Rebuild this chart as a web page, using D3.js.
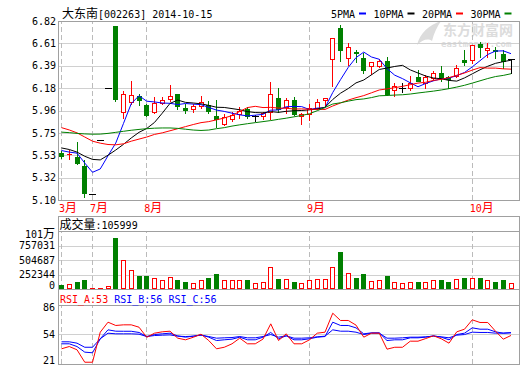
<!DOCTYPE html>
<html>
<head>
<meta charset="utf-8">
<script src="https://cdn.jsdelivr.net/npm/d3@7"></script>
<style>
body { margin: 0; background: #fff; }
svg { display: block; }
text { font-family: "DejaVu Sans Mono", monospace; font-size: 10px; }
.cjk { font-family: "Noto Sans CJK SC", sans-serif; font-size: 12px; }
</style>
</head>
<body>
<div id="chart"></div>
<script>
// ---- data ----
var stockName = "大东南", stockCode = "[002263]", stockDate = "2014-10-15";
var monthLabels = ["3月", "7月", "8月", "9月", "10月"];
var monthStart = [0, 4, 11, 32, 53];

var open  = [5.55,5.54,5.51,5.43,5.16,5.68,6.18,6.77,5.95,6.04,6.10,6.015,5.95,6.035,6.07,6.115,5.98,5.975,6.00,6.015,
             5.905,5.83,5.88,5.925,5.97,5.91,5.905,5.95,6.08,5.995,6.065,5.91,5.925,5.98,6.065,6.455,6.75,6.465,6.52,6.465,
             6.385,6.385,6.435,6.16,6.18,6.175,6.28,6.225,6.275,6.32,6.28,6.29,6.45,6.447,6.595,6.54,6.545,6.505,6.455];
var high  = [5.57,5.58,5.66,5.48,5.16,5.68,6.18,6.77,6.15,6.24,6.12,6.02,6.09,6.09,6.205,6.12,6.025,6.025,6.10,6.05,
             6.065,5.925,5.945,5.99,5.99,5.915,5.95,6.23,6.175,6.08,6.085,5.935,6.02,6.07,6.08,6.66,6.78,6.61,6.54,6.51,
             6.425,6.455,6.47,6.22,6.22,6.295,6.345,6.30,6.34,6.39,6.29,6.395,6.54,6.59,6.615,6.61,6.57,6.54,6.455];
var low   = [5.50,5.49,5.45,5.13,5.16,5.68,6.18,6.05,5.89,6.02,6.015,5.91,5.935,6.025,6.05,5.975,5.94,5.95,5.98,5.94,
             5.80,5.82,5.855,5.885,5.885,5.855,5.875,5.875,5.945,5.94,5.92,5.83,5.865,5.975,6.00,6.195,6.44,6.40,6.43,6.325,
             6.31,6.38,6.11,6.10,6.14,6.16,6.24,6.18,6.25,6.245,6.175,6.28,6.40,6.415,6.47,6.47,6.46,6.365,6.325];
var close = [5.52,5.545,5.46,5.17,5.16,5.68,6.18,6.07,6.116,6.11,6.06,5.915,6.035,6.065,6.095,6.00,5.965,6.005,6.04,5.96,
             5.875,5.90,5.92,5.96,5.91,5.91,5.94,6.12,5.97,6.065,5.925,5.93,5.98,6.04,6.078,6.66,6.545,6.57,6.51,6.345,
             6.425,6.435,6.12,6.195,6.18,6.225,6.245,6.28,6.32,6.275,6.26,6.365,6.43,6.59,6.57,6.56,6.53,6.44,6.455];

var ma5  = [5.58,5.565,5.555,5.46,5.371,5.403,5.53,5.652,5.841,6.031,6.107,6.054,6.047,6.037,6.034,6.022,6.032,6.026,6.021,5.994,
            5.969,5.956,5.939,5.923,5.913,5.92,5.928,5.968,5.97,6.001,6.004,6.002,5.974,5.988,5.991,6.138,6.261,6.379,6.473,6.526,
            6.479,6.457,6.367,6.304,6.271,6.231,6.193,6.225,6.25,6.269,6.276,6.30,6.33,6.384,6.443,6.503,6.536,6.538,6.511];
var ma10 = [5.605,5.59,5.565,5.525,5.495,5.49,5.535,5.585,5.64,5.701,5.755,5.792,5.850,5.939,6.033,6.065,6.043,6.037,6.029,6.014,
            5.996,5.994,5.983,5.972,5.954,5.945,5.942,5.954,5.947,5.957,5.962,5.965,5.971,5.979,5.996,6.071,6.131,6.176,6.230,6.258,
            6.308,6.359,6.373,6.388,6.399,6.355,6.325,6.296,6.277,6.270,6.254,6.247,6.278,6.317,6.356,6.390,6.418,6.434,6.448];
var ma20 = [5.80,5.778,5.75,5.71,5.67,5.651,5.638,5.635,5.645,5.67,5.69,5.71,5.735,5.75,5.77,5.79,5.81,5.83,5.848,5.858,
            5.875,5.893,5.916,5.956,5.993,6.005,5.993,5.995,5.988,5.986,5.979,5.980,5.977,5.976,5.975,6.008,6.037,6.065,6.088,6.108,
            6.135,6.162,6.172,6.184,6.197,6.213,6.228,6.236,6.254,6.264,6.281,6.303,6.325,6.353,6.377,6.372,6.372,6.365,6.362];
var ma30 = [5.757,5.752,5.745,5.74,5.737,5.738,5.745,5.755,5.765,5.775,5.783,5.79,5.795,5.797,5.797,5.793,5.785,5.777,5.773,5.777,
            5.79,5.80,5.815,5.827,5.838,5.848,5.858,5.868,5.88,5.891,5.904,5.917,5.934,5.963,5.994,6.027,6.039,6.055,6.069,6.076,
            6.089,6.106,6.109,6.113,6.116,6.123,6.133,6.142,6.151,6.162,6.175,6.190,6.207,6.228,6.250,6.272,6.291,6.302,6.318];

var volume = [70000,92000,115000,150000,18000,18000,45000,893000,510000,336000,231000,231000,197000,150000,209000,162000,115000,104000,150000,197000,
              254000,150000,150000,162000,150000,104000,115000,383000,174000,174000,127000,104000,162000,174000,174000,383000,650000,278000,197000,267000,
              139000,162000,220000,127000,104000,127000,127000,127000,162000,162000,115000,174000,197000,197000,185000,162000,127000,150000,105999];

var rsiA = [38.3,40.8,37.2,23.5,23.5,56.6,67.6,64,64.7,64.7,62.1,51,55.5,57,57.7,50,48.2,51,54.4,47.4,
            38.3,40,43.8,50,43.8,43.8,49,65.8,47.4,54.8,43.8,43.8,48.2,55.5,56.6,77.5,69.5,69.5,64.4,51.1,
            55.5,55.5,37.9,40,40,46.7,46.7,49.6,52.6,49.3,44.5,57,59.9,70.2,67.3,67.3,57.7,48.9,53];
var rsiB = [43.8,43.8,40.8,34.6,33.9,49.3,59.2,57.7,57.6,57.6,56.3,51.8,54,54.8,55.5,52.5,51.1,52.2,53.6,51.1,
            47.4,48.2,48.9,51.1,48.2,48.2,51.1,56.3,49.3,52.6,48.2,48.2,49.3,51.1,51.8,67.6,64,64,61.4,54.8,
            55.9,55.9,47.4,48.2,48.2,50.4,50.4,51.1,52.6,51.1,48.2,54,55.5,61.4,59.9,59.9,57,55.5,56];
var rsiC = [46,46,44.5,40,40,49.3,55.5,54.8,54.8,54.8,54.4,51.8,52.9,53.3,53.6,52.2,51.8,52.2,53.3,51.8,
            50,50.4,50.7,51.8,50.4,50.4,51.8,54,51.1,52.6,50,50,50.4,51.5,52.2,59.2,57.7,57.7,56.6,54,
            55.5,55.5,50,50,50.4,51.1,51.1,51.5,52.2,51.5,50.4,53.3,54,56.6,56.3,56.3,55.5,55.5,56];

var priceTicks  = [5.10, 5.315, 5.53, 5.745, 5.96, 6.175, 6.39, 6.605, 6.82];
var priceLabels = ["5.10", "5.32", "5.53", "5.75", "5.96", "6.18", "6.39", "6.61", "6.82"];
var volTicks  = [0, 252344, 504687, 757031, 1009375];
var volLabels = ["0", "252344", "504687", "757031", "101万"];
var rsiTicks = [21, 54, 86];

var legendNames = ["5PMA", "10PMA", "20PMA", "30PMA"];
var maColors = ["#0000ff", "#000000", "#ff0000", "#008000"];

// ---- layout ----
var left = 59, right = 519, plotW = right - left;
var red = "#ff0000", green = "#008000", blue = "#0000ff";
var border = "#a0a0a0", gridColor = "#d0d0d0";

var svg = d3.select("#chart").append("svg").attr("width", 520).attr("height", 365);

var x = d3.scaleLinear().domain([0, close.length - 1]).range([61, 510.5]);
var yPrice = d3.scaleLinear().domain([5.10, 6.82]).range([200, 21]);
var yVol = d3.scaleLinear().domain([0, 1009375]).range([289, 231]);
var yRsi = d3.scaleLinear().domain([21, 86]).range([364, 305]);

function col(i) { return Math.round(x(i)); }

// watermark
var wm = svg.append("g").attr("fill", "#dcdcdc");
wm.append("path").attr("d", "M417,45 C420,33 429,25 441,21 C437,27 434,33 432,41 C428,38 422,40 417,45 Z");
wm.append("text").attr("class", "cjk").attr("x", 443).attr("y", 35)
  .style("font-size", "14px").style("font-weight", "bold").text("东方财富网");
wm.append("text").attr("x", 441).attr("y", 47).style("font-size", "9px").style("font-weight", "bold").text("eastmoney.com");

// ---- grids and y axes ----
function yAxis(scale, ticks, fmt, pad) {
  return d3.axisLeft(scale).tickValues(ticks).tickSize(-plotW).tickPadding(pad).tickFormat(fmt);
}
function styleGrid(g) {
  g.select(".domain").remove();
  g.selectAll(".tick line").attr("stroke", gridColor).attr("shape-rendering", "crispEdges");
  g.selectAll(".tick text").attr("fill", "#000");
}

svg.append("g").attr("transform", "translate(" + left + ",0)")
  .call(yAxis(yPrice, priceTicks, function(d, i) { return priceLabels[i]; }, 3))
  .call(styleGrid);

var volAxis = svg.append("g").attr("transform", "translate(" + left + ",0)")
  .call(yAxis(yVol, volTicks, function(d, i) { return volLabels[i]; }, 4))
  .call(styleGrid);
volAxis.selectAll(".tick text").each(function(d) {
  var t = d3.select(this);
  if (d === 1009375) {
    t.text("101").attr("dy", "0.62em");
    t.append("tspan").attr("class", "cjk").text("万");
  }
  if (d === 0) t.attr("dy", "-0.05em");
});

var rsiAxis = svg.append("g").attr("transform", "translate(" + left + ",0)")
  .call(yAxis(yRsi, rsiTicks, d3.format("d"), 4))
  .call(styleGrid);
rsiAxis.selectAll(".tick text").attr("dy", function(d) {
  return d === 86 ? "0.55em" : d === 21 ? "-0.1em" : "0.32em";
});

// month dashed lines in each panel
[[200, 179], [289, 58], [364, 59]].forEach(function(p) {
  svg.append("g").attr("transform", "translate(0," + p[0] + ")")
    .call(d3.axisBottom(x).tickValues(monthStart).tickSize(-p[1]).tickFormat(""))
    .call(function(g) {
      g.select(".domain").remove();
      g.selectAll(".tick line").attr("stroke", "#bbbbbb")
        .attr("stroke-dasharray", "5,3").attr("shape-rendering", "crispEdges");
    });
});

// month labels
svg.append("g").attr("transform", "translate(0,201)")
  .call(d3.axisBottom(x).tickValues(monthStart).tickSize(0)
    .tickFormat(function(d, i) { return monthLabels[i]; }))
  .call(function(g) {
    g.select(".domain").remove();
    g.selectAll(".tick text").each(function(d, i) {
      var lab = monthLabels[i];
      var t = d3.select(this).text(null)
        .attr("text-anchor", "start").attr("x", -2.5).attr("y", 10.5).attr("dy", null)
        .attr("fill", red);
      t.append("tspan").text(lab.slice(0, -1));
      t.append("tspan").attr("class", "cjk").text(lab.slice(-1));
    });
  });

// ---- candles ----
var cg = svg.append("g").attr("shape-rendering", "crispEdges");
close.forEach(function(c, i) {
  var o = open[i], cx = col(i), lx = cx + 0.5;
  var color = c > o ? red : c < o ? green : "#000";
  var yTop = Math.round(yPrice(Math.max(o, c))), yBot = Math.round(yPrice(Math.min(o, c)));
  var yHi = Math.round(yPrice(high[i])), yLo = Math.round(yPrice(low[i]));
  if (c === o) {
    cg.append("line").attr("x1", lx).attr("x2", lx).attr("y1", yHi).attr("y2", yLo + 1).attr("stroke", color);
    cg.append("line").attr("x1", cx - 3).attr("x2", cx + 4).attr("y1", yTop + 0.5).attr("y2", yTop + 0.5).attr("stroke", color);
  } else if (c > o) {
    if (yHi < yTop) cg.append("line").attr("x1", lx).attr("x2", lx).attr("y1", yHi).attr("y2", yTop).attr("stroke", color);
    if (yLo > yBot) cg.append("line").attr("x1", lx).attr("x2", lx).attr("y1", yBot + 1).attr("y2", yLo + 1).attr("stroke", color);
    if (yBot - yTop >= 2) {
      cg.append("rect").attr("x", cx - 1.5).attr("y", yTop + 0.5).attr("width", 4).attr("height", yBot - yTop)
        .attr("fill", "#fff").attr("stroke", color);
    } else {
      cg.append("rect").attr("x", cx - 2).attr("y", yTop).attr("width", 5).attr("height", yBot - yTop + 1).attr("fill", color);
    }
  } else {
    cg.append("line").attr("x1", lx).attr("x2", lx).attr("y1", yHi).attr("y2", yLo + 1).attr("stroke", color);
    cg.append("rect").attr("x", cx - 2).attr("y", yTop).attr("width", 5).attr("height", yBot - yTop + 1).attr("fill", color);
  }
});

// ---- moving averages ----
var priceLine = d3.line().x(function(d, i) { return x(i) + 0.5; }).y(function(d) { return yPrice(d) + 0.5; });
[ma5, ma10, ma20, ma30].forEach(function(s, k) {
  svg.append("path").attr("d", priceLine(s)).attr("fill", "none").attr("stroke", maColors[k]).attr("stroke-width", 1);
});

// ---- volume ----
var vg = svg.append("g").attr("shape-rendering", "crispEdges");
volume.forEach(function(v, i) {
  var cx = col(i), yv = Math.round(yVol(v)), base = 289;
  if (close[i] < open[i]) {
    vg.append("rect").attr("x", cx - 2).attr("y", yv).attr("width", 5).attr("height", base - yv).attr("fill", green);
  } else if (base - yv >= 3) {
    vg.append("rect").attr("x", cx - 1.5).attr("y", yv + 0.5).attr("width", 4).attr("height", base - yv - 1)
      .attr("fill", "#fff").attr("stroke", red);
  } else {
    vg.append("rect").attr("x", cx - 2).attr("y", yv).attr("width", 5).attr("height", Math.max(base - yv, 1)).attr("fill", red);
  }
});

// ---- RSI ----
var rsiLine = d3.line().x(function(d, i) { return x(i) + 0.5; }).y(function(d) { return yRsi(d) + 0.5; });
[[rsiC, blue], [rsiB, blue], [rsiA, red]].forEach(function(s) {
  svg.append("path").attr("d", rsiLine(s[0])).attr("fill", "none").attr("stroke", s[1]).attr("stroke-width", 1);
});

// ---- panel borders ----
var bg = svg.append("g").attr("fill", "none").attr("stroke", border).attr("shape-rendering", "crispEdges");
bg.append("rect").attr("x", left - 0.5).attr("y", 21.5).attr("width", plotW + 1).attr("height", 179);
bg.append("rect").attr("x", left - 0.5).attr("y", 216.5).attr("width", plotW + 1).attr("height", 73);
bg.append("line").attr("x1", left - 0.5).attr("x2", right + 0.5).attr("y1", 231.5).attr("y2", 231.5);
bg.append("rect").attr("x", left - 0.5).attr("y", 289.5).attr("width", plotW + 1).attr("height", 75);
bg.append("line").attr("x1", left - 0.5).attr("x2", right + 0.5).attr("y1", 305.5).attr("y2", 305.5);

// ---- headers ----
var tt = svg.append("text").attr("x", 62).attr("y", 18);
tt.append("tspan").attr("class", "cjk").text(stockName);
tt.append("tspan").text(stockCode + " " + stockDate);

var lxPos = 331;
legendNames.forEach(function(n, k) {
  var w = n.length * 6;
  svg.append("text").attr("x", lxPos).attr("y", 18).text(n);
  svg.append("line").attr("x1", lxPos + w + 4).attr("x2", lxPos + w + 11).attr("y1", 13.5).attr("y2", 13.5)
    .attr("stroke", maColors[k]).attr("stroke-width", 2);
  lxPos += w + 18.5;
});

var vt = svg.append("text").attr("x", 59.5).attr("y", 228.5);
vt.append("tspan").attr("class", "cjk").text("成交量");
vt.append("tspan").text(":" + volume[volume.length - 1]);

var last = close.length - 1;
var rt = svg.append("text").attr("x", 60).attr("y", 302.5).attr("xml:space", "preserve");
rt.append("tspan").attr("fill", red).text("RSI_A:" + Math.round(rsiA[last]));
rt.append("tspan").attr("fill", blue).text(" RSI_B:" + Math.round(rsiB[last]));
rt.append("tspan").attr("fill", blue).text(" RSI_C:" + Math.round(rsiC[last]));
</script>
</body>
</html>
